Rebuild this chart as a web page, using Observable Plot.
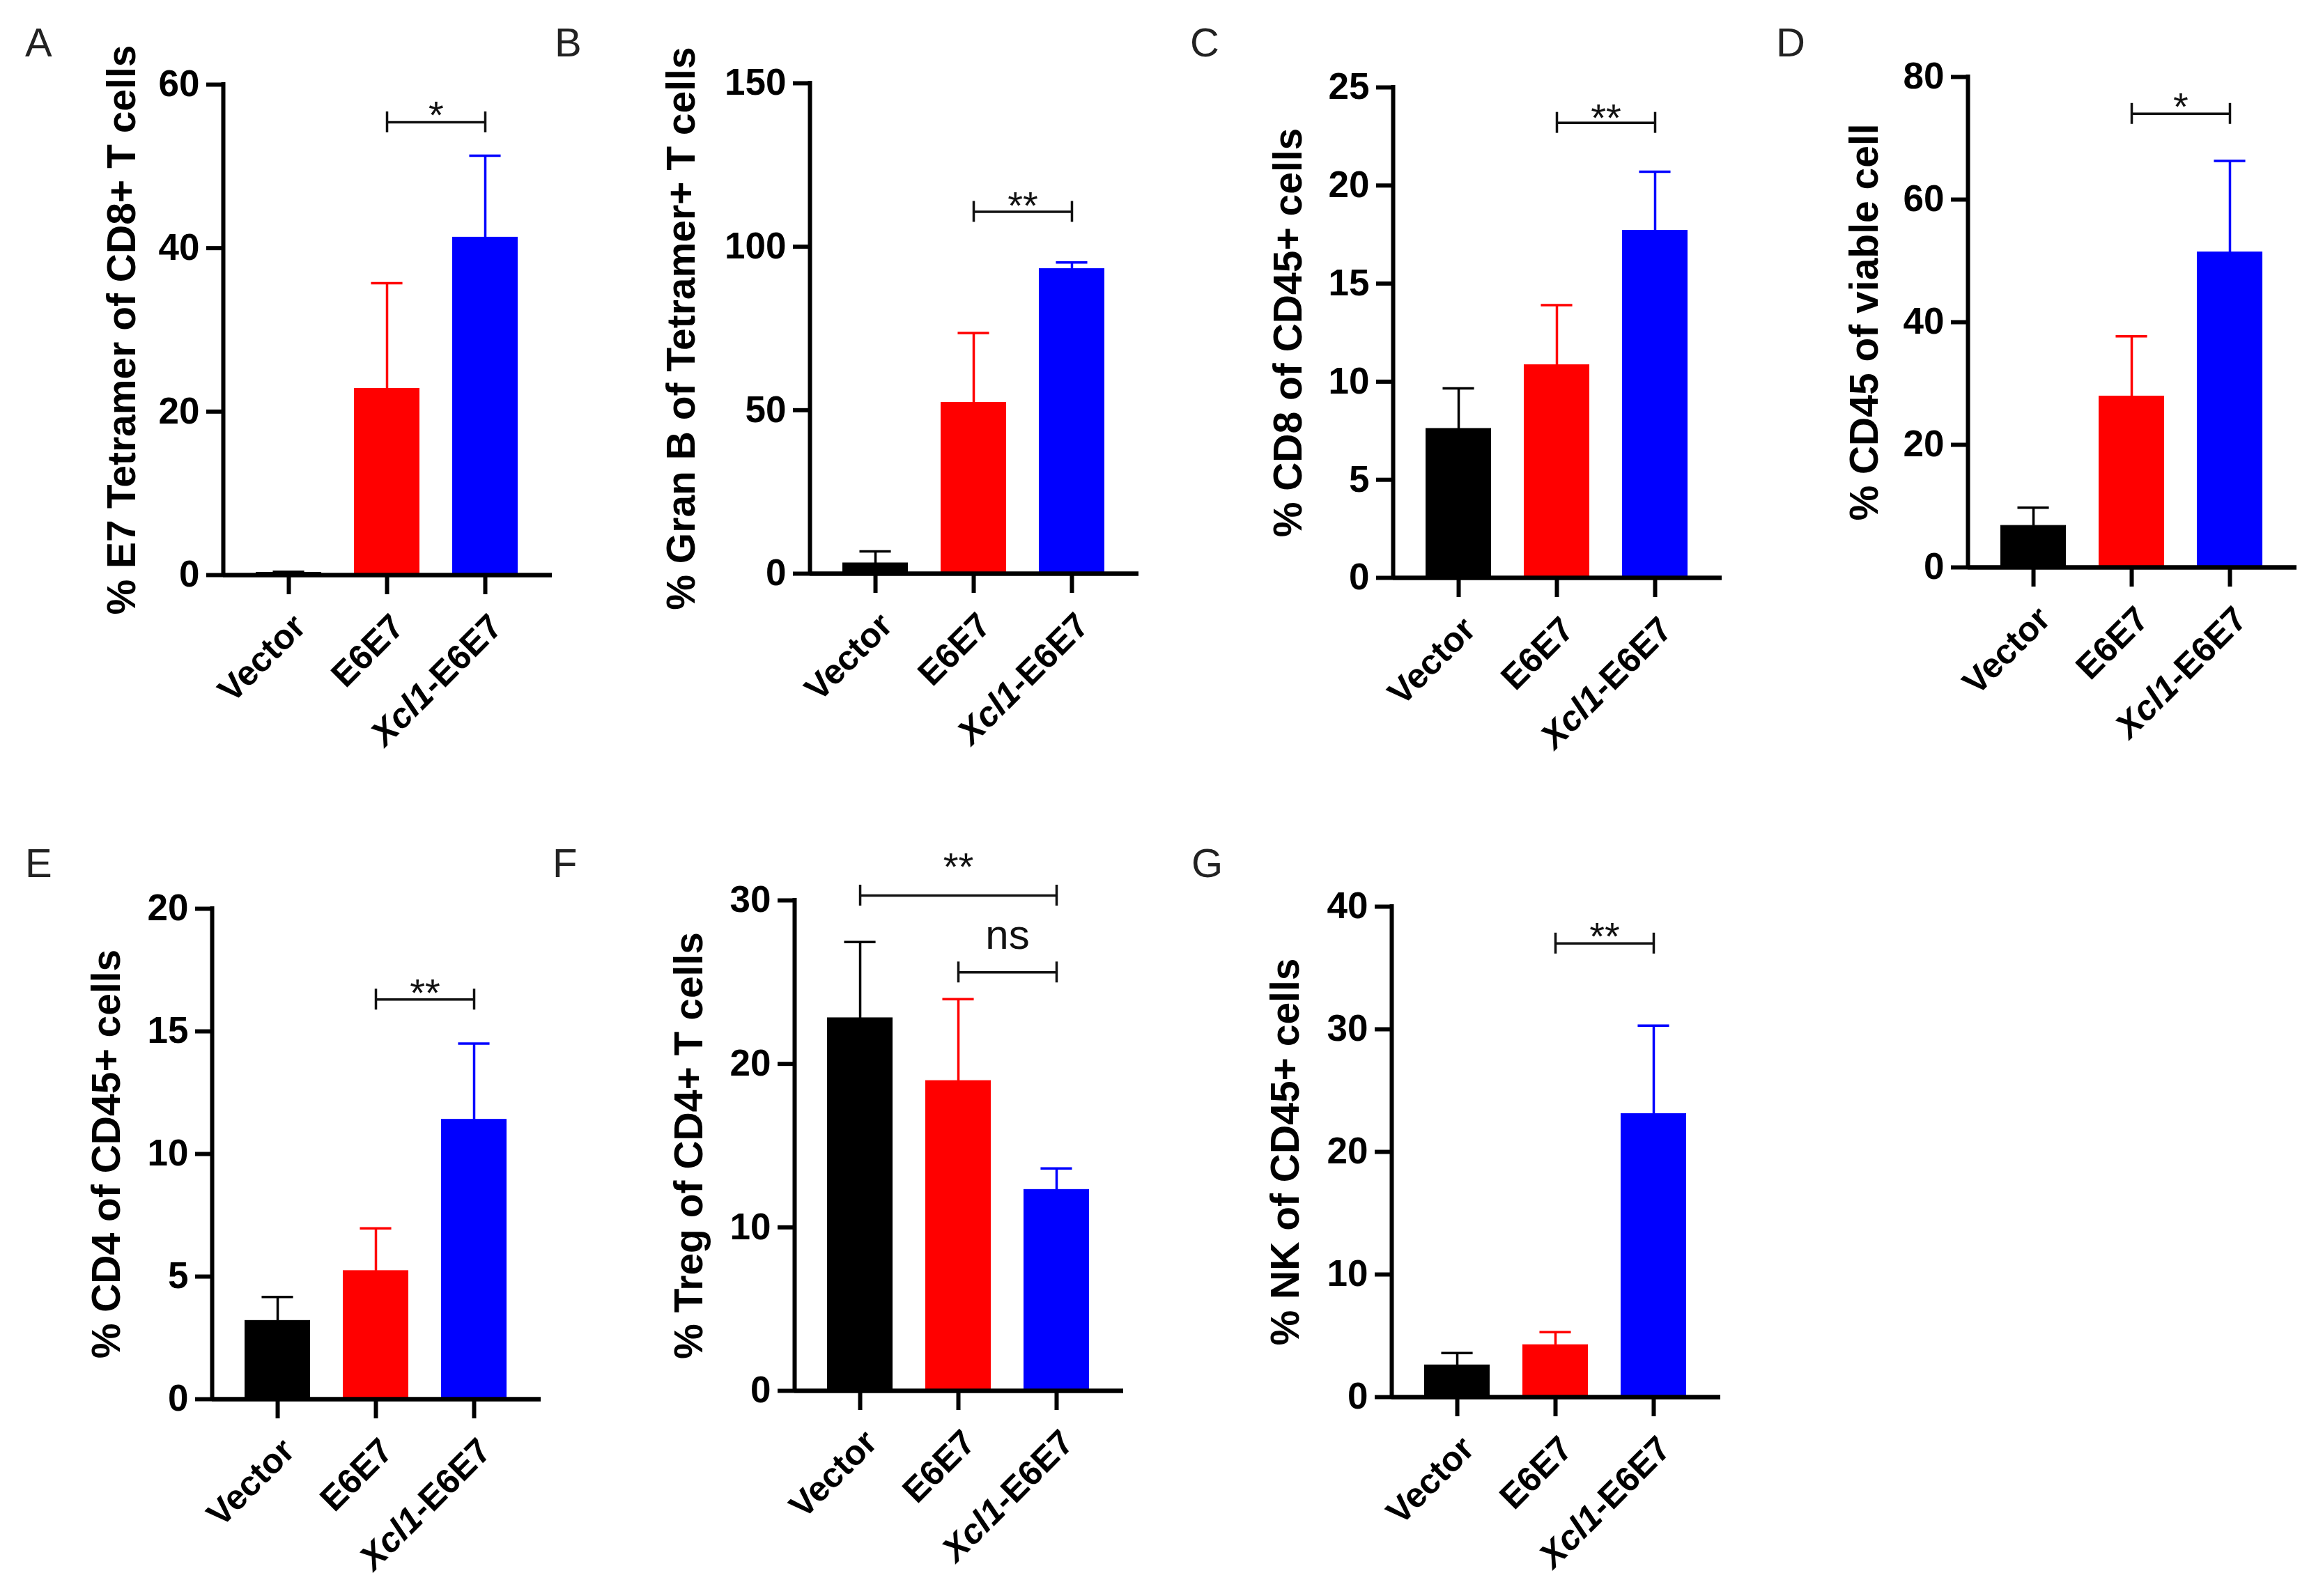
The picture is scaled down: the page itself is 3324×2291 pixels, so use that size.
<!DOCTYPE html>
<html><head><meta charset="utf-8">
<script src="https://cdn.jsdelivr.net/npm/d3@7"></script>
<script src="https://cdn.jsdelivr.net/npm/@observablehq/plot@0.6"></script>
<style>
html,body{margin:0;padding:0;background:#fff;}
#fig{position:relative;width:3324px;height:2291px;background:#fff;overflow:hidden;}
#fig svg.panel{position:absolute;}
#letters{position:absolute;left:0;top:0;}
</style></head><body><div id="fig"></div>
<script>
// ---------- data ----------
const groups = ["Vector", "E6E7", "Xcl1-E6E7"];
const groupColors = ["#000000", "#ff0000", "#0000ff"];

// A
const aLabel = "% E7 Tetramer of CD8+ T cells";
const aTicks = [0, 20, 40, 60];
const aMean = [0.3, 22.8, 41.3];
const aSD = [0.1, 12.9, 10.0];
const aComps = [{from: 1, to: 2, y: 55.4, labelY: 57.4, text: "*"}];
// B
const bLabel = "% Gran B of Tetramer+ T cells";
const bTicks = [0, 50, 100, 150];
const bMean = [3.2, 52.3, 93.2];
const bSD = [3.6, 21.3, 2.0];
const bComps = [{from: 1, to: 2, y: 110.7, labelY: 115.4, text: "**"}];
// C
const cLabel = "% CD8 of CD45+ cells";
const cTicks = [0, 5, 10, 15, 20, 25];
const cMean = [7.6, 10.85, 17.7];
const cSD = [2.06, 3.05, 3.0];
const cComps = [{from: 1, to: 2, y: 23.2, labelY: 23.9, text: "**"}];
// D
const dLabel = "% CD45 of viable cell";
const dTicks = [0, 20, 40, 60, 80];
const dMean = [6.8, 27.9, 51.4];
const dSD = [2.95, 9.8, 14.9];
const dComps = [{from: 1, to: 2, y: 74.0, labelY: 76.6, text: "*"}];
// E
const eLabel = "% CD4 of CD45+ cells";
const eTicks = [0, 5, 10, 15, 20];
const eMean = [3.2, 5.23, 11.4];
const eSD = [0.97, 1.74, 3.1];
const eComps = [{from: 1, to: 2, y: 16.3, labelY: 16.94, text: "**"}];
// F
const fLabel = "% Treg of CD4+ T cells";
const fTicks = [0, 10, 20, 30];
const fMean = [22.8, 18.96, 12.3];
const fSD = [4.65, 5.0, 1.3];
const fComps = [
  {from: 0, to: 2, y: 30.3, labelY: 32.6, text: "**"},
  {from: 1, to: 2, y: 25.6, labelY: 27.7, text: "ns"}
];
// G
const gLabel = "% NK of CD45+ cells";
const gTicks = [0, 10, 20, 30, 40];
const gMean = [2.6, 4.25, 23.1];
const gSD = [1.0, 1.05, 7.2];
const gComps = [{from: 1, to: 2, y: 37.0, labelY: 38.3, text: "**"}];

const panels = [
  {key: "A", label: aLabel, ticks: aTicks, mean: aMean, sd: aSD, comps: aComps},
  {key: "B", label: bLabel, ticks: bTicks, mean: bMean, sd: bSD, comps: bComps},
  {key: "C", label: cLabel, ticks: cTicks, mean: cMean, sd: cSD, comps: cComps},
  {key: "D", label: dLabel, ticks: dTicks, mean: dMean, sd: dSD, comps: dComps},
  {key: "E", label: eLabel, ticks: eTicks, mean: eMean, sd: eSD, comps: eComps},
  {key: "F", label: fLabel, ticks: fTicks, mean: fMean, sd: fSD, comps: fComps},
  {key: "G", label: gLabel, ticks: gTicks, mean: gMean, sd: gSD, comps: gComps}
];

// ---------- layout (pixels) ----------
const layout = {
  A: {axisX: 320, frameTop: 121, labelOffset: 145, letterX: 36, letterY: 81},
  B: {axisX: 1162, frameTop: 119, labelOffset: 184, letterX: 796, letterY: 81},
  C: {axisX: 1999, frameTop: 125, labelOffset: 150, letterX: 1708, letterY: 81},
  D: {axisX: 2824, frameTop: 110, labelOffset: 148, letterX: 2549, letterY: 81},
  E: {axisX: 304, frameTop: 1304, labelOffset: 151, letterX: 36, letterY: 1259},
  F: {axisX: 1140, frameTop: 1292, labelOffset: 151, letterX: 793, letterY: 1259},
  G: {axisX: 1997, frameTop: 1301, labelOffset: 152, letterX: 1710, letterY: 1259}
};
const frameW = 472, frameH = 704;
const mL = 260, mT = 140, mR = 30, mB = 290;
const xDomain = [-0.667, 2.681];
const halfBar = 0.33, halfCap = 0.16;
const FONT = "'Liberation Sans', Arial, Helvetica, sans-serif";
const SVGNS = "http://www.w3.org/2000/svg";

const fig = document.getElementById("fig");

for (const p of panels) {
  const lay = layout[p.key];
  const ymax = p.ticks[p.ticks.length - 1];
  const endHalf = 15 * ymax / frameH;
  const data = groups.map((g, i) => ({i, g, mean: p.mean[i], sd: p.sd[i], color: groupColors[i]}));
  const ends = p.comps.flatMap(c => [c.from, c.to].map(x => ({x, y: c.y})));
  const stars = p.comps.filter(c => c.text !== "ns");
  const ns = p.comps.filter(c => c.text === "ns");

  const svg = Plot.plot({
    width: mL + frameW + mR,
    height: mT + frameH + mB,
    marginLeft: mL, marginTop: mT, marginRight: mR, marginBottom: mB,
    style: {fontFamily: FONT, background: "transparent", overflow: "visible", color: "#000"},
    x: {domain: xDomain},
    y: {domain: [0, ymax]},
    color: {type: "identity"},
    marks: [
      Plot.rect(data, {x1: d => d.i - halfBar, x2: d => d.i + halfBar, y1: d => 0, y2: "mean", fill: "color", stroke: "color", strokeWidth: 1}),
      Plot.ruleX(data, {x: "i", y1: "mean", y2: d => d.mean + d.sd, stroke: "color", strokeWidth: 3.5}),
      Plot.ruleY(data, {y: d => d.mean + d.sd, x1: d => d.i - halfCap, x2: d => d.i + halfCap, stroke: "color", strokeWidth: 3.5}),
      Plot.axisY({ticks: p.ticks, tickSize: 24, tickPadding: 10, fontSize: 53, fontWeight: "bold", strokeWidth: 6, label: null, tickFormat: d => String(d)}),
      Plot.axisX({ticks: [0, 1, 2], tickSize: 28, strokeWidth: 6, tickFormat: () => "", label: null}),
      Plot.ruleY([0], {strokeWidth: 6.5}),
      Plot.ruleX([xDomain[0]], {y1: () => 0, y2: () => ymax, strokeWidth: 6, strokeLinecap: "square"}),
      Plot.text(data, {x: "i", y: () => 0, text: "g", rotate: -45, textAnchor: "end", lineAnchor: "top", dx: 2, dy: 52, fontSize: 50, fontWeight: "bold", fill: "#000"}),
      Plot.ruleY(p.comps, {y: "y", x1: "from", x2: "to", stroke: "#111", strokeWidth: 3.5}),
      Plot.ruleX(ends, {x: "x", y1: d => d.y - endHalf, y2: d => d.y + endHalf, stroke: "#111", strokeWidth: 3.5}),
      Plot.text(stars, {x: d => (d.from + d.to) / 2, y: "labelY", text: "text", fontSize: 56, lineAnchor: "middle", dy: 14, fill: "#111"}),
      Plot.text(ns, {x: d => (d.from + d.to) / 2, y: "labelY", text: "text", fontSize: 60, lineAnchor: "middle", dy: -3.6, fill: "#111"}),
      Plot.text([p.label], {text: d => d, frameAnchor: "left", textAnchor: "middle", lineAnchor: "middle", rotate: -90, dx: -lay.labelOffset, fontSize: 57, fontWeight: "bold", fill: "#000"})
    ]
  });
  svg.classList.add("panel");
  svg.style.left = (lay.axisX - mL) + "px";
  svg.style.top = (lay.frameTop - mT) + "px";
  // italicise the gene name in the group label
  svg.querySelectorAll("text").forEach(t => {
    if (t.textContent === "Xcl1-E6E7" && t.children.length === 0) {
      t.textContent = "";
      const a = document.createElementNS(SVGNS, "tspan");
      a.setAttribute("font-style", "italic");
      a.textContent = "Xcl1";
      const b = document.createElementNS(SVGNS, "tspan");
      b.textContent = "-E6E7";
      t.appendChild(a); t.appendChild(b);
    }
  });
  fig.appendChild(svg);
}

// panel letters
const letters = d3.select(fig).append("svg").attr("id", "letters")
  .attr("width", 3324).attr("height", 2291);
letters.selectAll("text").data(panels).join("text")
  .attr("x", p => layout[p.key].letterX)
  .attr("y", p => layout[p.key].letterY)
  .attr("font-family", FONT)
  .attr("font-size", 58)
  .attr("fill", "#222")
  .text(p => p.key);
</script>
</body></html>
